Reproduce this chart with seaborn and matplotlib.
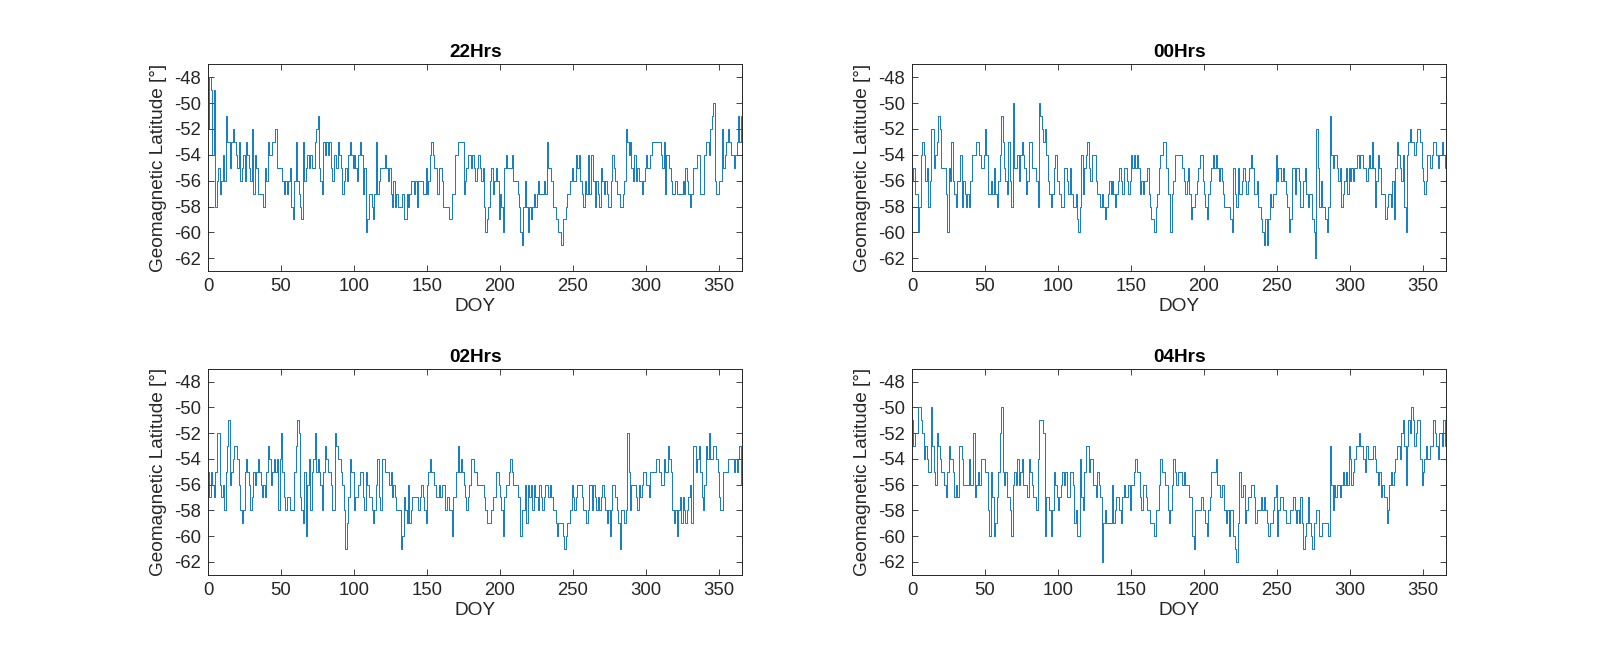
import numpy as np
import matplotlib
matplotlib.use("Agg")
import matplotlib.pyplot as plt
import seaborn as sns

# geomagnetic latitude per day of year (days 0..365)
lat_22h = [
    -52, -48, -49, -54, -49, -58, -56, -55, -57, -56,
    -54, -56, -51, -53, -53, -55, -53, -52, -53, -54,
    -55, -53, -56, -55, -54, -56, -53, -54, -55, -56,
    -52, -57, -54, -55, -57, -57, -57, -57, -58, -55,
    -56, -53, -54, -54, -53, -53, -52, -55, -55, -55,
    -55, -56, -57, -56, -57, -56, -55, -58, -59, -56,
    -53, -56, -57, -58, -59, -53, -56, -55, -54, -55,
    -54, -55, -55, -53, -52, -51, -55, -56, -57, -53,
    -54, -53, -54, -53, -55, -56, -54, -54, -55, -53,
    -54, -55, -57, -56, -55, -56, -54, -53, -54, -55,
    -54, -55, -56, -54, -53, -54, -57, -55, -60, -59,
    -57, -57, -58, -59, -57, -53, -57, -56, -55, -55,
    -55, -54, -55, -56, -55, -57, -58, -56, -58, -57,
    -58, -58, -58, -57, -59, -59, -57, -58, -57, -56,
    -56, -57, -56, -58, -56, -56, -56, -57, -57, -55,
    -57, -56, -54, -53, -54, -55, -55, -57, -55, -55,
    -56, -58, -58, -58, -58, -59, -59, -57, -57, -54,
    -54, -53, -53, -53, -53, -57, -56, -55, -54, -54,
    -55, -54, -55, -56, -55, -54, -55, -56, -55, -58,
    -60, -59, -58, -56, -55, -57, -56, -55, -56, -59,
    -57, -58, -60, -55, -54, -55, -55, -55, -54, -56,
    -56, -56, -57, -58, -60, -61, -58, -56, -58, -60,
    -58, -59, -58, -57, -58, -57, -56, -57, -57, -57,
    -56, -57, -53, -55, -55, -56, -58, -58, -59, -59,
    -60, -60, -61, -59, -59, -58, -57, -57, -56, -55,
    -56, -56, -54, -55, -54, -56, -57, -58, -56, -57,
    -54, -57, -54, -54, -56, -58, -56, -57, -58, -55,
    -56, -57, -56, -57, -58, -58, -56, -54, -55, -56,
    -57, -57, -58, -58, -57, -56, -52, -53, -54, -53,
    -55, -56, -54, -56, -55, -56, -56, -57, -56, -55,
    -54, -55, -55, -54, -53, -53, -53, -53, -53, -53,
    -54, -55, -53, -57, -54, -54, -55, -56, -57, -57,
    -56, -57, -57, -57, -57, -56, -57, -55, -56, -57,
    -58, -57, -55, -55, -55, -54, -54, -57, -57, -57,
    -54, -53, -53, -54, -52, -51, -50, -56, -57, -57,
    -56, -56, -52, -55, -54, -53, -52, -53, -54, -54,
    -55, -54, -53, -51, -53, -51,
]

lat_00h = [
    -56, -55, -57, -57, -60, -58, -54, -53, -54, -56,
    -55, -58, -56, -52, -52, -55, -54, -53, -51, -52,
    -55, -55, -55, -57, -60, -55, -56, -53, -56, -57,
    -58, -56, -56, -54, -58, -56, -57, -58, -57, -58,
    -56, -54, -54, -54, -53, -53, -54, -55, -55, -54,
    -52, -54, -57, -57, -56, -57, -55, -57, -58, -56,
    -54, -51, -53, -55, -56, -57, -53, -56, -58, -50,
    -55, -55, -54, -56, -54, -53, -54, -55, -57, -56,
    -53, -53, -55, -55, -55, -56, -58, -50, -51, -52,
    -53, -52, -54, -56, -57, -58, -57, -55, -54, -56,
    -56, -57, -58, -58, -55, -55, -56, -57, -55, -57,
    -58, -58, -57, -59, -60, -58, -54, -57, -55, -54,
    -53, -55, -56, -54, -54, -54, -56, -57, -57, -58,
    -57, -58, -59, -58, -57, -56, -57, -56, -57, -58,
    -57, -56, -55, -56, -57, -55, -55, -56, -57, -56,
    -54, -55, -54, -55, -54, -55, -57, -56, -57, -56,
    -56, -55, -57, -58, -59, -59, -60, -58, -57, -55,
    -54, -54, -53, -53, -55, -57, -57, -60, -57, -56,
    -54, -54, -54, -54, -54, -55, -56, -57, -56, -55,
    -57, -59, -58, -58, -57, -56, -55, -54, -54, -56,
    -57, -58, -59, -57, -56, -55, -54, -55, -54, -55,
    -56, -55, -56, -57, -58, -58, -58, -58, -59, -60,
    -55, -57, -58, -55, -57, -57, -56, -55, -56, -57,
    -56, -55, -54, -55, -57, -57, -56, -58, -58, -59,
    -60, -61, -59, -61, -59, -57, -58, -57, -57, -54,
    -56, -55, -55, -56, -55, -56, -57, -58, -60, -59,
    -55, -55, -57, -55, -55, -56, -58, -58, -56, -55,
    -57, -58, -57, -57, -59, -60, -62, -52, -55, -58,
    -56, -58, -58, -59, -60, -58, -51, -54, -55, -54,
    -54, -55, -56, -55, -58, -57, -56, -55, -57, -55,
    -56, -55, -56, -55, -55, -54, -55, -54, -54, -55,
    -55, -56, -55, -54, -55, -53, -55, -58, -56, -54,
    -55, -57, -57, -57, -59, -58, -57, -57, -58, -56,
    -59, -55, -53, -54, -55, -56, -54, -58, -60, -54,
    -53, -52, -53, -53, -54, -53, -52, -52, -53, -55,
    -56, -57, -56, -54, -54, -55, -54, -53, -53, -54,
    -55, -54, -54, -53, -54, -55,
]

lat_02h = [
    -55, -57, -55, -56, -57, -55, -52, -52, -56, -57,
    -56, -58, -55, -53, -51, -56, -55, -54, -53, -53,
    -54, -56, -58, -59, -58, -55, -54, -55, -56, -58,
    -57, -55, -56, -55, -54, -55, -56, -57, -56, -57,
    -55, -53, -54, -56, -55, -54, -55, -54, -58, -54,
    -52, -55, -57, -58, -57, -57, -58, -58, -58, -55,
    -53, -51, -52, -57, -58, -59, -55, -60, -56, -54,
    -58, -55, -54, -52, -55, -54, -55, -56, -58, -55,
    -53, -54, -55, -55, -56, -58, -58, -52, -53, -54,
    -54, -55, -56, -58, -61, -59, -57, -54, -55, -55,
    -58, -57, -57, -56, -55, -55, -57, -58, -55, -56,
    -57, -57, -58, -59, -58, -56, -54, -57, -58, -54,
    -54, -55, -55, -55, -56, -55, -57, -56, -57, -58,
    -58, -58, -61, -60, -57, -58, -59, -56, -59, -58,
    -57, -57, -57, -57, -58, -57, -56, -57, -58, -59,
    -56, -55, -54, -55, -55, -56, -57, -57, -56, -57,
    -56, -56, -58, -58, -57, -58, -58, -60, -57, -57,
    -55, -53, -55, -54, -55, -56, -57, -58, -57, -56,
    -54, -54, -55, -55, -56, -56, -56, -56, -56, -57,
    -58, -59, -59, -59, -58, -57, -57, -55, -55, -56,
    -57, -58, -60, -57, -56, -56, -55, -54, -55, -56,
    -56, -56, -57, -57, -60, -58, -58, -56, -59, -56,
    -57, -56, -58, -56, -57, -57, -58, -56, -57, -58,
    -57, -56, -56, -57, -56, -57, -58, -58, -59, -60,
    -59, -59, -59, -60, -61, -60, -59, -59, -58, -56,
    -57, -58, -57, -56, -56, -56, -57, -58, -58, -59,
    -58, -56, -56, -58, -56, -57, -58, -57, -58, -57,
    -56, -57, -58, -59, -58, -60, -58, -56, -56, -57,
    -58, -59, -61, -58, -58, -59, -58, -52, -55, -58,
    -56, -56, -56, -57, -58, -56, -57, -56, -55, -55,
    -56, -56, -57, -55, -55, -55, -55, -54, -54, -55,
    -56, -56, -54, -55, -55, -53, -54, -55, -58, -59,
    -58, -60, -58, -57, -59, -57, -58, -59, -58, -57,
    -56, -59, -53, -53, -55, -54, -53, -55, -57, -58,
    -56, -53, -54, -52, -54, -54, -53, -53, -54, -55,
    -57, -58, -58, -55, -55, -55, -54, -54, -54, -54,
    -55, -54, -55, -54, -53, -56,
]

lat_04h = [
    -51, -53, -52, -52, -50, -50, -51, -52, -54, -53,
    -54, -55, -55, -50, -53, -55, -56, -52, -53, -54,
    -55, -55, -56, -57, -55, -53, -54, -54, -55, -57,
    -56, -57, -53, -53, -54, -56, -56, -56, -56, -54,
    -56, -56, -52, -57, -56, -55, -56, -54, -54, -54,
    -55, -55, -58, -60, -55, -57, -60, -59, -57, -55,
    -52, -50, -55, -56, -55, -57, -57, -58, -60, -56,
    -55, -56, -54, -56, -55, -54, -56, -56, -56, -57,
    -54, -55, -56, -57, -57, -58, -54, -51, -51, -51,
    -52, -60, -57, -57, -58, -60, -58, -55, -56, -57,
    -58, -57, -56, -55, -56, -55, -57, -57, -55, -55,
    -56, -59, -58, -60, -60, -54, -57, -58, -55, -53,
    -53, -55, -54, -54, -56, -56, -57, -55, -56, -57,
    -62, -59, -58, -59, -59, -59, -59, -56, -59, -58,
    -57, -57, -58, -59, -57, -56, -57, -57, -56, -58,
    -56, -56, -55, -54, -55, -55, -57, -58, -56, -56,
    -57, -58, -58, -59, -59, -59, -60, -58, -58, -56,
    -54, -55, -55, -56, -56, -58, -59, -58, -56, -54,
    -55, -56, -55, -55, -55, -56, -55, -56, -56, -56,
    -57, -57, -60, -61, -58, -58, -58, -58, -57, -58,
    -58, -59, -60, -58, -57, -55, -55, -55, -54, -56,
    -56, -57, -56, -56, -58, -59, -58, -60, -58, -58,
    -60, -61, -62, -59, -55, -57, -57, -56, -59, -58,
    -57, -57, -56, -56, -57, -59, -58, -58, -58, -57,
    -58, -57, -58, -59, -60, -59, -59, -58, -57, -56,
    -60, -58, -57, -57, -58, -58, -59, -59, -59, -58,
    -58, -57, -58, -59, -58, -59, -57, -59, -61, -60,
    -59, -57, -59, -60, -61, -59, -59, -58, -58, -60,
    -60, -59, -59, -59, -59, -60, -53, -56, -58, -56,
    -57, -56, -56, -57, -56, -55, -56, -55, -56, -53,
    -54, -56, -55, -54, -53, -53, -52, -53, -53, -54,
    -55, -53, -54, -54, -54, -54, -53, -54, -55, -56,
    -55, -57, -56, -57, -57, -59, -58, -56, -55, -56,
    -55, -54, -53, -53, -54, -52, -51, -53, -56, -53,
    -51, -52, -50, -51, -53, -52, -51, -51, -54, -56,
    -55, -54, -53, -54, -54, -53, -53, -51, -52, -53,
    -54, -52, -52, -53, -51, -53,
]

titles = ["22Hrs", "00Hrs", "02Hrs", "04Hrs"]
series = [lat_22h, lat_00h, lat_02h, lat_04h]
doy = np.arange(0, len(lat_22h))

sns.set_style("ticks")
plt.rcParams["font.family"] = ["Liberation Sans", "DejaVu Sans"]
plt.rcParams["axes.unicode_minus"] = False  # plain hyphen like the original

ink = "#262626"
blue = "#0072BD"

fig = plt.figure(figsize=(16, 6.63), dpi=100)
rects = [
    [0.130, 0.591, 0.334, 0.312],
    [0.570, 0.591, 0.334, 0.312],
    [0.130, 0.133, 0.334, 0.311],
    [0.570, 0.133, 0.334, 0.311],
]

for rect, title, vals in zip(rects, titles, series):
    ax = fig.add_axes(rect)
    sns.lineplot(x=doy, y=np.array(vals), ax=ax, color=blue, linewidth=0.65,
                 drawstyle="steps-post", estimator=None)
    ax.set_xlim(0, 366)
    ax.set_ylim(-63, -47)
    ax.set_xticks(np.arange(0, 351, 50))
    ax.set_yticks(np.arange(-62, -47, 2))
    ax.tick_params(direction="in", length=4, width=0.6, colors=ink,
                   labelsize=13.3, top=True, right=True, pad=5)
    for sp in ax.spines.values():
        sp.set_visible(True)
        sp.set_color(ink)
        sp.set_linewidth(0.7)
    ax.set_title(title, fontsize=13.7, fontweight="bold", color="black", pad=5)
    ax.set_xlabel("DOY", fontsize=13.7, color=ink, labelpad=2)
    ax.set_ylabel("Geomagnetic Latitude [°]", fontsize=13.7, color=ink, labelpad=5)

fig.savefig("out.png", dpi=100)
